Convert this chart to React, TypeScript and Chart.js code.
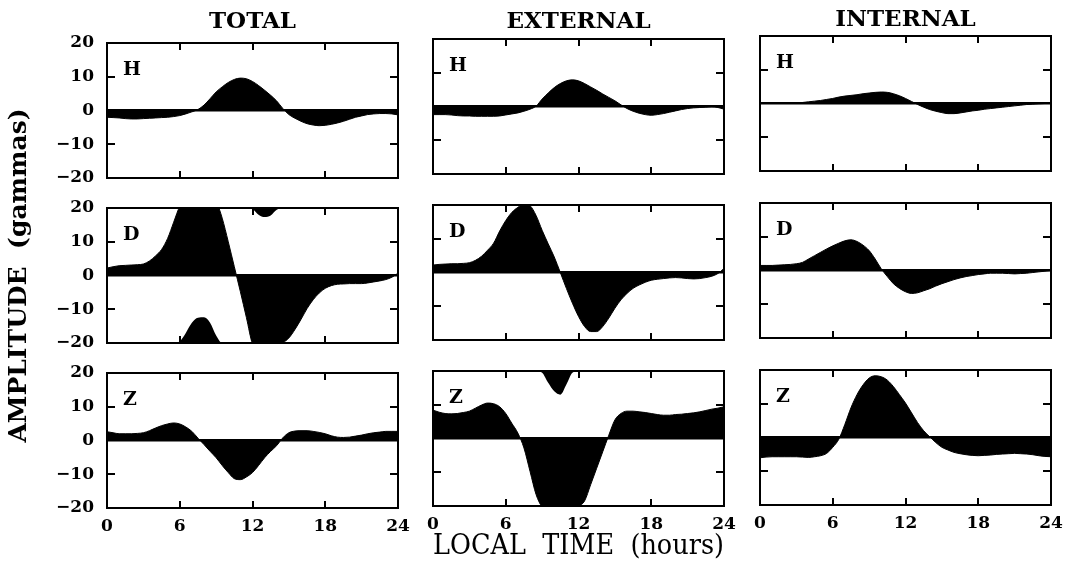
import React, { useEffect, useRef } from "react";
import { Chart, registerables } from "chart.js";

Chart.register(...registerables);

// ---------------- data ----------------
const HOURS = [
  0, 0.5, 1, 1.5, 2, 2.5, 3, 3.5, 4, 4.5, 5, 5.5, 6, 6.5, 7, 7.5, 8, 8.5, 9, 9.5, 10, 10.5, 11, 11.5,
  12, 12.5, 13, 13.5, 14, 14.5, 15, 15.5, 16, 16.5, 17, 17.5, 18, 18.5, 19, 19.5, 20, 20.5, 21, 21.5,
  22, 22.5, 23, 23.5, 24,
];

const COLUMN_TITLES = ["TOTAL", "EXTERNAL", "INTERNAL"];
const COMPONENT_LABELS = ["H", "D", "Z"];
const X_TICKS = [0, 6, 12, 18, 24];
const Y_TICKS = [-20, -10, 0, 10, 20];
const X_LABEL = "LOCAL  TIME  (hours)";
const Y_LABEL = "AMPLITUDE  (gammas)";

const TOTAL_H = [
  -2.0, -2.1, -2.2, -2.4, -2.5, -2.5, -2.4, -2.3, -2.2, -2.1, -2.0, -1.8, -1.5, -1.0, -0.4, 0.3, 1.6, 3.5,
  5.5, 7.0, 8.3, 9.2, 9.6, 9.4, 8.6, 7.4, 6.0, 4.5, 2.8, 0.6, -1.2, -2.3, -3.2, -3.9, -4.3, -4.5, -4.4,
  -4.1, -3.7, -3.2, -2.6, -2.0, -1.6, -1.2, -1.0, -0.9, -0.9, -1.0, -1.3,
];
const TOTAL_D = [
  2.2, 2.6, 2.9, 3.0, 3.1, 3.2, 3.4, 4.3, 5.8, 7.7, 11.0, 15.8, 20.5, 23.0, 26.0, 27.5, 27.6, 26.0, 22.2,
  17.0, 10.0, 2.6, -4.8, -12.5, -20.3, -22.0, -22.7, -22.2, -20.5, -19.9, -18.5, -16.0, -13.0, -9.8, -7.2,
  -5.2, -3.8, -3.0, -2.6, -2.5, -2.4, -2.4, -2.4, -2.2, -1.9, -1.6, -1.2, -0.5, 0.7,
];
const TOTAL_Z = [
  2.6, 2.3, 2.0, 2.0, 2.0, 2.1, 2.3, 2.9, 3.7, 4.4, 4.9, 5.2, 4.9, 4.0, 2.7, 0.7, -1.2, -3.2, -5.1, -7.4,
  -9.5, -11.3, -11.6, -10.8, -9.5, -7.4, -5.1, -3.2, -1.5, 0.8, 2.3, 2.8, 2.9, 2.9, 2.7, 2.4, 2.0, 1.4,
  1.0, 0.9, 1.0, 1.3, 1.6, 2.0, 2.3, 2.5, 2.7, 2.7, 2.7,
];
const EXTERNAL_H = [
  -2.4, -2.4, -2.4, -2.5, -2.7, -2.8, -2.8, -2.9, -2.9, -2.9, -2.9, -2.8, -2.5, -2.2, -1.9, -1.4, -0.8, 0.1,
  2.2, 4.0, 5.6, 6.8, 7.6, 7.9, 7.6, 6.8, 5.8, 4.8, 3.7, 2.7, 1.7, 0.5, -0.6, -1.4, -2.0, -2.4, -2.6, -2.4,
  -2.1, -1.7, -1.3, -0.9, -0.6, -0.4, -0.3, -0.2, -0.1, -0.3, -0.8,
];
const EXTERNAL_D = [
  2.2, 2.4, 2.5, 2.6, 2.6, 2.7, 2.9, 3.6, 4.8, 6.6, 8.7, 12.3, 15.4, 17.8, 19.3, 20.3, 19.8, 16.9, 12.5,
  8.5, 4.6, 0.0, -4.7, -9.1, -13.0, -16.0, -17.5, -17.5, -16.0, -13.5, -10.6, -8.1, -6.2, -4.7, -3.7, -2.9,
  -2.3, -2.0, -1.8, -1.6, -1.5, -1.6, -1.8, -1.9, -1.8, -1.5, -1.1, -0.3, 1.2,
];
const EXTERNAL_Z = [
  8.4, 7.8, 7.4, 7.3, 7.4, 7.7, 8.1, 9.0, 9.9, 10.5, 10.3, 9.4, 7.4, 4.5, 1.6, -2.8, -9.7, -16.6, -20.5,
  -23.5, -26.0, -27.0, -24.0, -20.5, -20.0, -18.5, -13.7, -8.8, -3.9, 1.0, 5.5, 7.4, 8.1, 8.1, 7.9, 7.7,
  7.4, 7.1, 6.9, 6.9, 7.1, 7.2, 7.4, 7.6, 7.9, 8.3, 8.7, 9.0, 9.4,
];
const INTERNAL_H = [
  0.0, 0.0, 0.0, 0.0, 0.05, 0.1, 0.15, 0.3, 0.5, 0.7, 0.9, 1.2, 1.5, 1.9, 2.2, 2.4, 2.6, 2.9, 3.1, 3.3, 3.4,
  3.3, 2.9, 2.3, 1.5, 0.6, -0.3, -1.1, -1.8, -2.3, -2.7, -3.0, -3.0, -2.8, -2.5, -2.2, -2.0, -1.7, -1.5,
  -1.3, -1.1, -0.9, -0.7, -0.5, -0.3, -0.2, -0.1, 0.0, 0.0,
];
const INTERNAL_D = [
  1.5, 1.5, 1.5, 1.6, 1.7, 1.8, 2.0, 2.4, 3.4, 4.4, 5.4, 6.4, 7.3, 8.1, 8.8, 9.1, 8.6, 7.5, 5.9, 3.4, 0.5,
  -1.8, -3.9, -5.3, -6.3, -6.8, -6.6, -6.0, -5.4, -4.6, -3.9, -3.3, -2.7, -2.2, -1.8, -1.5, -1.2, -1.0,
  -0.8, -0.8, -0.8, -0.9, -1.0, -0.9, -0.8, -0.6, -0.4, -0.2, 0.0,
];
const INTERNAL_Z = [
  -6.0, -5.8, -5.7, -5.7, -5.7, -5.7, -5.7, -5.8, -5.9, -5.7, -5.4, -4.7, -2.9, -0.5, 3.9, 8.8, 12.7, 15.6,
  17.6, 18.3, 18.0, 17.0, 15.1, 12.7, 10.2, 7.3, 4.4, 2.0, 0.2, -1.5, -2.9, -3.7, -4.4, -4.8, -5.1, -5.3,
  -5.4, -5.3, -5.2, -5.0, -4.9, -4.8, -4.7, -4.8, -4.9, -5.1, -5.4, -5.6, -5.7,
];

const SERIES = [
  [TOTAL_H, TOTAL_D, TOTAL_Z],
  [EXTERNAL_H, EXTERNAL_D, EXTERNAL_Z],
  [INTERNAL_H, INTERNAL_D, INTERNAL_Z],
];

// ---------------- layout ----------------
const PAGE_W = 1071;
const PAGE_H = 563;
const PLOT_W = 291;
const PLOT_H = 135;
const COL_LEFT = [107, 433, 760];
const ROW_TOP = [
  [43, 208, 373],
  [39, 205, 371],
  [36, 203, 370],
];
const TITLE_CY = [22, 22, 20];
const FAMILY = '"DejaVu Serif", "Liberation Serif", serif';
const TICK_FONT = { family: FAMILY, size: 17, weight: "bold" as const, lineHeight: 1.2 };
const TITLE_FONT = { family: FAMILY, size: 23, weight: "bold" as const, lineHeight: 1.2 };

const fmt = (v: number) => (v < 0 ? "\u2212" + Math.abs(v) : String(v));

function Panel({ col, row }: { col: number; row: number }) {
  const ref = useRef<HTMLCanvasElement | null>(null);
  const plotLeft = COL_LEFT[col];
  const plotTop = ROW_TOP[col][row];
  const plotBottom = plotTop + PLOT_H;
  const yW = col === 0 ? 107 : 20;
  const padR = 24;
  const hasYTitle = col === 0 && row === 1;
  let canvasTop: number;
  let canvasBottom: number;
  if (row === 0) canvasTop = 0;
  else if (hasYTitle) canvasTop = 90;
  else canvasTop = plotTop - 28;
  if (row === 2) canvasBottom = PAGE_H;
  else if (hasYTitle) canvasBottom = 470;
  else canvasBottom = plotBottom + 28;
  const padTop = row === 0 ? 0 : plotTop - canvasTop;
  const xH = row === 2 ? PAGE_H - plotBottom : 0;
  const padBottom = row === 2 ? 0 : canvasBottom - plotBottom;
  const canvasLeft = plotLeft - yW;
  const canvasW = yW + PLOT_W + padR;
  const canvasH = canvasBottom - canvasTop;

  useEffect(() => {
    const canvas = ref.current;
    if (!canvas) return;
    const values = SERIES[col][row];
    const yMax = Y_TICKS[Y_TICKS.length - 1];
    const yMin = Y_TICKS[0];
    const span = yMax - yMin;
    const common = {
      borderColor: "#000",
      backgroundColor: "#000",
      borderWidth: 1,
      pointRadius: 0,
      cubicInterpolationMode: "monotone" as const,
      clip: 0,
    };
    const datasets: any[] = [
      { ...common, data: HOURS.map((h, i) => ({ x: h, y: values[i] })), fill: { value: 0 } },
    ];
    if (values.some((v) => v > yMax)) {
      datasets.push({
        ...common,
        borderWidth: 0,
        data: HOURS.map((h, i) => ({ x: h, y: Math.max(values[i], yMax) - span })),
        fill: "start",
      });
    }
    if (values.some((v) => v < yMin)) {
      datasets.push({
        ...common,
        borderWidth: 0,
        data: HOURS.map((h, i) => ({ x: h, y: Math.min(values[i], yMin) + span })),
        fill: "end",
      });
    }

    const letter = COMPONENT_LABELS[row];
    const framePlugin = {
      id: "frame" + col + row,
      afterDatasetsDraw(chart: any) {
        const { ctx, chartArea: a, scales } = chart;
        ctx.save();
        ctx.strokeStyle = "#000";
        ctx.lineWidth = 2;
        ctx.strokeRect(a.left, a.top, a.right - a.left, a.bottom - a.top);
        ctx.beginPath();
        for (const t of X_TICKS.slice(1, -1)) {
          const px = Math.round(scales.x.getPixelForValue(t));
          ctx.moveTo(px, a.top);
          ctx.lineTo(px, a.top + 7);
          ctx.moveTo(px, a.bottom);
          ctx.lineTo(px, a.bottom - 7);
        }
        for (const t of Y_TICKS.slice(1, -1)) {
          if (t === 0) continue;
          const py = Math.round(scales.y.getPixelForValue(t));
          ctx.moveTo(a.left, py);
          ctx.lineTo(a.left + 8, py);
          ctx.moveTo(a.right, py);
          ctx.lineTo(a.right - 8, py);
        }
        ctx.stroke();
        ctx.fillStyle = "#000";
        ctx.font = `bold 19px ${FAMILY}`;
        ctx.textBaseline = "alphabetic";
        ctx.textAlign = "left";
        ctx.fillText(letter, a.left + 16, a.top + 32);
        ctx.restore();
      },
    };

    const chart = new Chart(canvas, {
      type: "line",
      data: { datasets },
      plugins: [framePlugin],
      options: {
        animation: false,
        responsive: false,
        devicePixelRatio: 1,
        events: [],
        layout: { padding: { left: 0, right: padR, top: padTop, bottom: padBottom } },
        plugins: {
          legend: { display: false },
          tooltip: { enabled: false },
          title: {
            display: row === 0,
            text: COLUMN_TITLES[col],
            fullSize: false,
            color: "#000",
            font: TITLE_FONT,
            padding: {
              top: TITLE_CY[col] - 13.8,
              bottom: plotTop - TITLE_CY[col] - 13.8,
            },
          },
        },
        scales: {
          x: {
            type: "linear",
            min: X_TICKS[0],
            max: X_TICKS[X_TICKS.length - 1],
            afterBuildTicks: (s: any) => {
              s.ticks = X_TICKS.map((v) => ({ value: v }));
            },
            afterFit: (s: any) => {
              s.height = xH;
            },
            grid: { display: false, drawTicks: false },
            border: { display: false },
            ticks: {
              display: row === 2,
              autoSkip: false,
              maxRotation: 0,
              padding: 8,
              color: "#000",
              font: TICK_FONT,
            },
            title: {
              display: row === 2 && col === 1,
              text: X_LABEL,
              color: "#000",
              font: { family: FAMILY, size: 27, weight: "normal", lineHeight: 1.2 },
              padding: { top: 0, bottom: 0 },
            },
          },
          y: {
            type: "linear",
            min: Y_TICKS[0],
            max: Y_TICKS[Y_TICKS.length - 1],
            afterBuildTicks: (s: any) => {
              s.ticks = Y_TICKS.map((v) => ({ value: v }));
            },
            afterFit: (s: any) => {
              s.width = yW;
            },
            grid: {
              drawTicks: false,
              color: (c: any) => (c.tick && c.tick.value === 0 ? "#000" : "rgba(0,0,0,0)"),
              lineWidth: (c: any) => (c.tick && c.tick.value === 0 ? 2.5 : 0),
            },
            border: { display: false },
            ticks: {
              display: col === 0,
              padding: 13,
              color: "#000",
              font: TICK_FONT,
              callback: (v: any) => fmt(Number(v)),
            },
            title: {
              display: hasYTitle,
              text: Y_LABEL,
              color: "#000",
              font: { family: FAMILY, size: 25, weight: "bold", lineHeight: 1.2 },
              padding: { top: 4, bottom: 0 },
            },
          },
        },
      },
    } as any);
    return () => chart.destroy();
  }, []);

  return (
    <canvas
      ref={ref}
      width={canvasW}
      height={canvasH}
      style={{
        position: "absolute",
        left: canvasLeft,
        top: canvasTop,
        width: canvasW,
        height: canvasH,
      }}
    />
  );
}

export default function App() {
  const panels = [];
  for (let c = 0; c < 3; c++) {
    for (let r = 0; r < 3; r++) {
      panels.push(<Panel key={`${c}-${r}`} col={c} row={r} />);
    }
  }
  return (
    <div
      style={{
        position: "absolute",
        left: 0,
        top: 0,
        width: PAGE_W,
        height: PAGE_H,
        background: "#fff",
        overflow: "hidden",
      }}
    >
      {panels}
    </div>
  );
}
